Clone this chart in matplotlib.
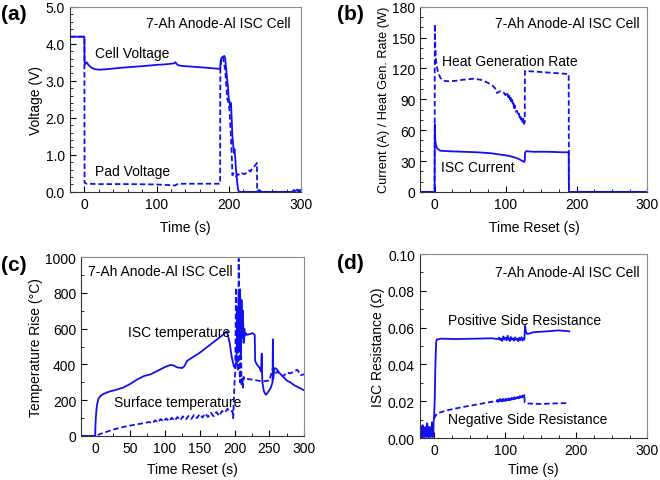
import numpy as np
import matplotlib
matplotlib.use("Agg")
import matplotlib.pyplot as plt
from matplotlib.ticker import MultipleLocator, FormatStrFormatter

plt.rcParams['font.family'] = ['Liberation Sans', 'DejaVu Sans']
plt.rcParams['font.size'] = 10

BLUE = '#1010f0'
DASH = (0, (3, 1.6))
TITLE = "7-Ah Anode-Al ISC Cell"

# (a) cell / pad voltage
cell_t = [-20, 0, 0.2, 1, 3, 6, 10, 15, 20, 30, 50, 70, 90, 100, 110, 120, 124, 126,
          128, 130, 135, 150, 170, 188, 188.5, 190, 192, 194, 195, 197, 199, 200, 201,
          202, 203, 204, 205, 206, 207, 208, 209, 210, 211, 212, 213, 214, 216, 240,
          280, 288, 290, 292, 295, 298, 300]
cell_v = [4.19, 4.19, 3.5, 3.45, 3.5, 3.42, 3.35, 3.31, 3.30, 3.31, 3.35, 3.38, 3.41,
          3.43, 3.44, 3.46, 3.47, 3.50, 3.45, 3.42, 3.40, 3.38, 3.35, 3.32, 3.50, 3.62,
          3.65, 3.67, 3.6, 3.2, 2.8, 2.5, 2.45, 2.3, 2.4, 2.0, 1.5, 1.3, 1.05, 1.15, 0.9,
          0.6, 0.4, 0.2, 0.05, 0.01, 0.0, 0.0, 0.0, 0.0, 0.05, 0.02, 0.06, 0.04, 0.05]
pad_t = [-20, 0, 0.2, 3, 20, 60, 100, 120, 125, 128, 130, 160, 188, 188.3, 190, 192,
         195, 198, 200, 201, 203, 204.5, 205, 207, 210, 213, 215, 218, 222, 225, 228,
         230, 233, 236, 238, 239, 239.3, 242, 245, 250, 300]
pad_v = [4.19, 4.19, 0.25, 0.22, 0.21, 0.21, 0.2, 0.18, 0.17, 0.2, 0.22, 0.22, 0.22,
         3.32, 3.6, 3.64, 3.3, 2.5, 2.4, 2.2, 1.5, 0.8, 0.45, 0.5, 0.42, 0.48, 0.45,
         0.5, 0.48, 0.52, 0.58, 0.55, 0.65, 0.7, 0.75, 0.78, 0.0, 0.05, 0.02, 0.0, 0.0]

# (b) ISC current / heat generation rate
cur_t = [-20, 0, 0.3, 1, 2, 4, 8, 20, 40, 60, 80, 90, 100, 105, 110, 115, 120, 124,
         126, 127, 127.5, 129, 140, 160, 180, 189, 189.3, 300]
cur_a = [0, 0, 66, 50, 45, 42, 40, 39.5, 39, 38.5, 37.5, 36.5, 35.5, 35, 34, 33, 31.5,
         30, 29, 30, 38, 39.5, 39, 39, 38.5, 38.5, 0, 0]
heat_t = [-20, 0, 0.3, 1, 2, 3, 5, 8, 12, 20, 30, 40, 55, 65, 72, 78, 82, 85, 87, 88,
          90, 93, 96, 98, 100, 102, 104, 105, 106, 107, 108, 109, 110, 111, 112, 113,
          114, 116, 118, 119, 120, 121, 122, 123, 124, 125, 126, 127, 127.3, 140, 160,
          180, 189, 189.3, 300]
heat_w = [0, 0, 163, 140, 128, 122, 116, 111, 108, 107.5, 108, 109, 110, 109, 107, 105,
          103, 101, 98, 96, 97, 98, 97, 96, 94, 97, 92, 95, 90, 93, 88, 91, 86, 88, 80,
          84, 78, 79, 74, 76, 72, 74, 70, 72, 68, 71, 66, 68, 117.5, 117, 116, 115,
          114.5, 0, 0]

# (c) temperature rise
isc_t = [-20, 0, 0.5, 1, 2, 3, 5, 8, 12, 20, 30, 40, 50, 60, 70, 80, 90, 100, 108, 112,
         118, 125, 128, 132, 140, 150, 160, 170, 180, 189, 193, 196, 199, 201, 203, 204,
         205, 206, 207, 208, 209, 210, 211, 212, 213, 214, 215, 216, 218, 222, 226, 229,
         229.5, 232, 236, 238, 239, 239.5, 240, 242, 245, 248, 252, 254.5, 255, 255.5,
         257, 260, 265, 270, 275, 280, 285, 290, 295, 300]
isc_c = [0, 0, 60, 100, 150, 180, 210, 225, 235, 248, 258, 270, 290, 315, 335, 345, 365,
         385, 397, 395, 383, 380, 390, 420, 440, 465, 495, 525, 555, 585, 520, 440, 390,
         380, 430, 720, 480, 790, 500, 820, 460, 760, 550, 700, 520, 600, 560, 575, 565,
         570, 575, 565, 420, 400, 380, 360, 460, 350, 300, 250, 230, 245, 270, 300, 540,
         320, 380, 375, 350, 330, 310, 300, 285, 275, 265, 255]
surf_t = [-20, 0, 10, 20, 30, 40, 50, 60, 70, 78, 82, 86, 90, 94, 98, 102, 106, 110, 114,
          118, 122, 126, 130, 134, 138, 142, 146, 150, 154, 158, 162, 166, 170, 174,
          178, 182, 186, 190, 194, 197, 198, 200, 201, 202, 203, 204, 205, 206, 207,
          208, 209, 210, 211, 212, 213, 214, 216, 220, 230, 240, 250, 255, 258, 262,
          266, 270, 275, 280, 285, 290, 295, 300]
surf_c = [0, 0, 15, 28, 40, 50, 58, 65, 72, 78, 70, 88, 75, 95, 80, 98, 82, 102, 85,
          106, 88, 110, 92, 112, 95, 118, 100, 122, 103, 126, 106, 130, 110, 134, 112,
          140, 130, 152, 135, 140, 100, 300, 360, 830, 400, 420, 360, 990, 380, 300,
          650, 280, 330, 270, 330, 320, 320, 318, 312, 305, 310, 380, 350, 360, 340,
          335, 355, 350, 360, 370, 340, 345]

# (d) ISC resistance
pos_t = [-20, -19.5, -19, -18.5, -18, -17.5, -17, -16.5, -16, -15.5, -15, -14, -13.5,
         -13, -12, -11.5, -11, -10, -9.5, -9, -8, -7.5, -7, -6, -5.5, -5, -4, -3.5, -3,
         -2, -1.5, -1, -0.5, 0, 1, 2, 3, 4, 10, 30, 60, 80, 90, 91.5, 93, 94.5, 96, 97.5,
         99, 100.5, 102, 103.5, 105, 106.5, 108, 109.5, 111, 112.5, 114, 115.5, 117,
         118.5, 120, 121.5, 123, 124.5, 126, 127, 128, 129, 131, 140, 160, 175, 190]
pos_r = [0.006, 0.0005, 0.005, 0.001, 0.006, 0.0005, 0.004, 0.001, 0.007, 0.0005, 0.005,
         0.001, 0.0055, 0.0005, 0.006, 0.001, 0.0045, 0.0005, 0.008, 0.001, 0.005,
         0.0005, 0.006, 0.001, 0.0045, 0.0005, 0.006, 0.001, 0.0085, 0.0005, 0.005,
         0.001, 0.009, 0.0105, 0.02, 0.04, 0.052, 0.0535, 0.054, 0.0538, 0.054, 0.0542,
         0.0538, 0.0546, 0.0533, 0.0541, 0.0528, 0.0552, 0.0536, 0.0544, 0.0531,
         0.0556, 0.0538, 0.0527, 0.0549, 0.0535, 0.0542, 0.0529, 0.0547, 0.0534,
         0.0540, 0.0526, 0.0545, 0.0532, 0.0548, 0.0530, 0.0541, 0.0535, 0.061, 0.058,
         0.0565, 0.0575, 0.058, 0.0585, 0.058]
neg_t = [0, 2, 5, 20, 40, 60, 80, 88, 89, 90, 91, 92, 93, 94, 95, 96, 97, 98, 99, 100,
         101, 102, 103, 104, 105, 106, 107, 108, 109, 110, 111, 112, 113, 114, 115, 116,
         117, 118, 119, 120, 121, 122, 123, 124, 125, 126, 127, 127.5, 130, 150, 170,
         190]
neg_r = [0.0105, 0.012, 0.0135, 0.0152, 0.0168, 0.0182, 0.0196, 0.0200, 0.0206, 0.0197,
         0.0208, 0.0199, 0.0211, 0.0202, 0.0207, 0.0198, 0.0212, 0.0203, 0.0209, 0.0201,
         0.0214, 0.0204, 0.0210, 0.0206, 0.0216, 0.0205, 0.0213, 0.0208, 0.0218,
         0.0209, 0.0215, 0.0212, 0.0221, 0.0213, 0.0219, 0.0215, 0.0224, 0.0216,
         0.0222, 0.0218, 0.0227, 0.0219, 0.0226, 0.0222, 0.0231, 0.0224, 0.0233,
         0.0193, 0.0188, 0.0185, 0.0188, 0.019]

fig = plt.figure(figsize=(6.6, 4.81), dpi=100)
ax_a = fig.add_axes([0.106, 0.599, 0.350, 0.385])
ax_b = fig.add_axes([0.637, 0.599, 0.344, 0.385])
ax_c = fig.add_axes([0.123, 0.0915, 0.338, 0.372])
ax_d = fig.add_axes([0.636, 0.0873, 0.345, 0.3825])


def style(ax, xmaj, xmin, ymaj, ymin):
    ax.tick_params(which='both', direction='in', top=False, right=False, labelsize=10)
    ax.tick_params(which='major', length=4, width=0.8)
    ax.tick_params(which='minor', length=2, width=0.6)
    ax.xaxis.set_major_locator(MultipleLocator(xmaj))
    ax.xaxis.set_minor_locator(MultipleLocator(xmin))
    ax.yaxis.set_major_locator(MultipleLocator(ymaj))
    ax.yaxis.set_minor_locator(MultipleLocator(ymin))
    for s in ['top', 'right']:
        ax.spines[s].set_color('#8c8c8c')
    for s in ['left', 'bottom']:
        ax.spines[s].set_color('#333333')


# (a)
ax_a.plot(cell_t, cell_v, color=BLUE, lw=1.3)
ax_a.plot(pad_t, pad_v, color=BLUE, lw=1.3, linestyle=DASH)
ax_a.set_xlim(-20, 300)
ax_a.set_ylim(0, 5)
style(ax_a, 100, 20, 1, 0.2)
ax_a.yaxis.set_major_formatter(FormatStrFormatter('%.1f'))
ax_a.set_xlabel("Time (s)", labelpad=7)
ax_a.set_ylabel("Voltage (V)", labelpad=2)
ax_a.text(0.957, 0.914, TITLE, transform=ax_a.transAxes, ha='right', va='center')
ax_a.text(15, 3.75, "Cell Voltage", va='center')
ax_a.text(15, 0.57, "Pad Voltage", va='center')

# (b)
ax_b.plot(cur_t, cur_a, color=BLUE, lw=1.3)
ax_b.plot(heat_t, heat_w, color=BLUE, lw=1.3, linestyle=DASH)
ax_b.set_xlim(-20, 300)
ax_b.set_ylim(0, 180)
style(ax_b, 100, 25, 30, 10)
ax_b.set_xlabel("Time Reset (s)", labelpad=7)
ax_b.set_ylabel("Current (A) / Heat Gen. Rate (W)", fontsize=9.2, labelpad=2)
ax_b.text(0.965, 0.914, TITLE, transform=ax_b.transAxes, ha='right', va='center')
ax_b.text(10, 127.7, "Heat Generation Rate", va='center')
ax_b.text(8.5, 23.8, "ISC Current", va='center')

# (c)
ax_c.plot(isc_t, isc_c, color=BLUE, lw=1.3)
ax_c.plot(surf_t, surf_c, color=BLUE, lw=1.3, linestyle=DASH)
ax_c.set_xlim(-20, 300)
ax_c.set_ylim(0, 1000)
style(ax_c, 50, 25, 200, 100)
ax_c.set_xlabel("Time Reset (s)", labelpad=5)
ax_c.set_ylabel("Temperature Rise (°C)", labelpad=2)
ax_c.text(0.031, 0.92, TITLE, transform=ax_c.transAxes, ha='left', va='center')
ax_c.text(46.6, 582, "ISC temperature", va='center')
ax_c.text(27.4, 190, "Surface temperature", va='center')

# (d)
ax_d.plot(pos_t, pos_r, color=BLUE, lw=1.3)
ax_d.plot(neg_t, neg_r, color=BLUE, lw=1.3, linestyle=DASH)
# the noisy stretch of the negative side looks solid in the source
ax_d.plot(neg_t[7:47], neg_r[7:47], color=BLUE, lw=1.1)
ax_d.set_xlim(-20, 300)
ax_d.set_ylim(0, 0.1)
style(ax_d, 100, 25, 0.02, 0.01)
ax_d.yaxis.set_major_formatter(FormatStrFormatter('%.2f'))
ax_d.set_xlabel("Time (s)", labelpad=4)
ax_d.set_ylabel("ISC Resistance (Ω)", labelpad=2)
ax_d.text(0.965, 0.90, TITLE, transform=ax_d.transAxes, ha='right', va='center')
ax_d.text(20, 0.0642, "Positive Side Resistance", va='center')
ax_d.text(20, 0.0101, "Negative Side Resistance", va='center')

for lab, x, y in [("(a)", 0.002, 0.969), ("(b)", 0.51, 0.969),
                  ("(c)", 0.002, 0.449), ("(d)", 0.51, 0.453)]:
    fig.text(x, y, lab, fontsize=15, fontweight='bold', va='center', ha='left')

fig.savefig("out.png", dpi=100)
